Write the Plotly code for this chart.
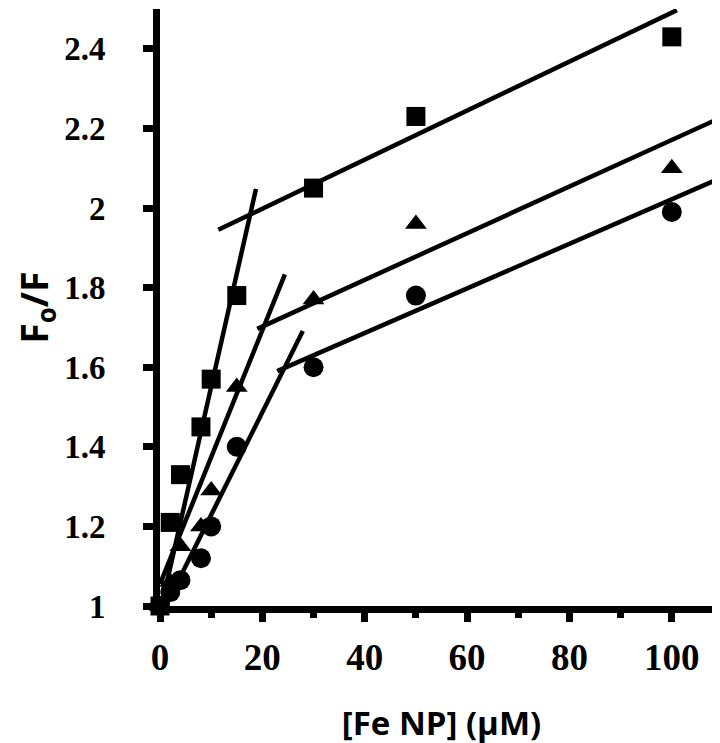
import plotly.graph_objects as go

# Data
conc = [0, 2, 4, 8, 10, 15, 30, 50, 100]
squares = [1.0, 1.21, 1.33, 1.45, 1.57, 1.78, 2.05, 2.23, 2.43]
triangles = [1.0, 1.06, 1.15, 1.20, 1.29, 1.55, 1.77, 1.96, 2.10]
circles = [1.0, 1.035, 1.065, 1.12, 1.20, 1.40, 1.60, 1.78, 1.99]

# Fitted line segments: (x_start, x_end, intercept, slope)
sq_steep = (0.0, 18.75, 0.983, 0.0568)
sq_flat = (11.4, 101.0, 1.875, 0.00616)
tr_steep = (0.0, 24.4, 1.055, 0.0319)
tr_flat = (19.0, 109.4, 1.585, 0.00586)
ci_steep = (0.0, 27.9, 0.971, 0.0258)
ci_flat = (22.9, 110.0, 1.462, 0.0056)

x_ticks = [0, 20, 40, 60, 80, 100]
y_ticks = [1, 1.2, 1.4, 1.6, 1.8, 2, 2.2, 2.4]
y_ticklabels = ["1", "1.2", "1.4", "1.6", "1.8", "2", "2.2", "2.4"]

fig = go.Figure()

for seg in [sq_steep, sq_flat, tr_steep, tr_flat, ci_steep, ci_flat]:
    x0, x1, b, m = seg
    fig.add_trace(go.Scatter(
        x=[x0, x1], y=[b + m * x0, b + m * x1], mode="lines",
        line=dict(color="black", width=4.5), showlegend=False, hoverinfo="skip"))

for ys, sym, sz in [(squares, "square", 19), (triangles, "triangle-up", 19), (circles, "circle", 20)]:
    fig.add_trace(go.Scatter(
        x=conc, y=ys, mode="markers", cliponaxis=False,
        marker=dict(symbol=sym, size=sz, color="black"), showlegend=False))

fig.update_layout(
    width=720, height=743,
    margin=dict(l=152, r=5, t=1, b=145),
    plot_bgcolor="white", paper_bgcolor="white",
    xaxis=dict(
        range=[0, 110], tickvals=x_ticks, ticktext=[str(v) for v in x_ticks],
        showgrid=False, zeroline=False, showline=True, linecolor="black", linewidth=7,
        ticks="outside", ticklen=9, tickwidth=7, tickcolor="black",
        minor=dict(dtick=10, tick0=0, ticks="outside", ticklen=5, tickwidth=7, tickcolor="black", showgrid=False),
        tickfont=dict(family="Liberation Serif", size=37, color="black", weight="bold"),
        ticklabelstandoff=4, automargin=False,
        title=dict(text="[Fe NP] (µM)", standoff=37,
                   font=dict(family="Open Sans", size=33, color="black", weight="bold")),
    ),
    yaxis=dict(
        range=[1, 2.5], tickvals=y_ticks, ticktext=y_ticklabels,
        showgrid=False, zeroline=False, showline=True, linecolor="black", linewidth=7,
        ticks="outside", ticklen=10, tickwidth=7, tickcolor="black",
        tickfont=dict(family="Liberation Serif", size=33, color="black", weight="bold"),
        ticklabelstandoff=31, automargin=False,
        title=dict(text="F<sub>o</sub>/F", standoff=15,
                   font=dict(family="Open Sans", size=37, color="black", weight="bold")),
    ),
)

fig.write_html("out.html")
